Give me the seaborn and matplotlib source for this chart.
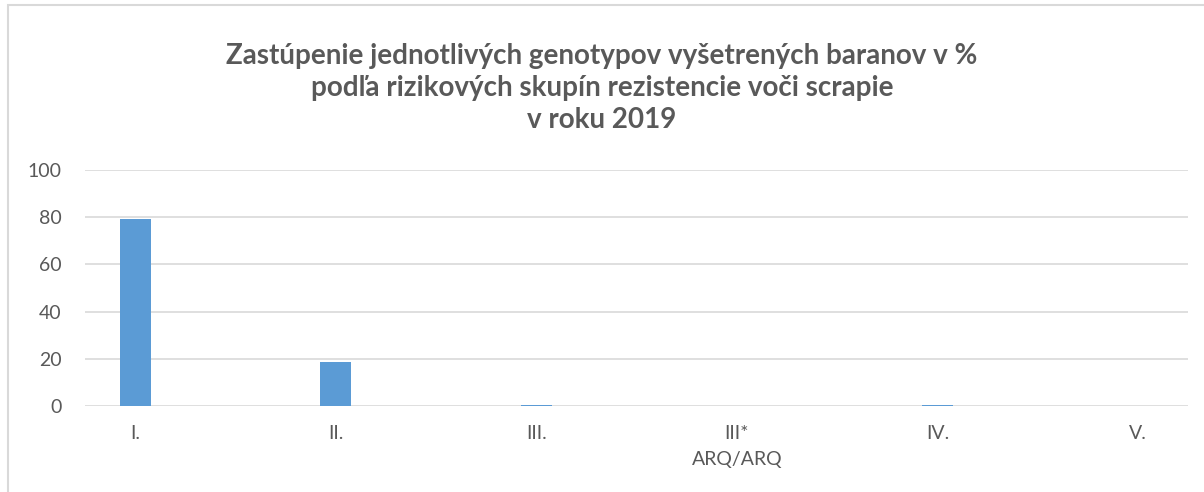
import matplotlib
matplotlib.use("Agg")
import matplotlib.pyplot as plt
import seaborn as sns
import pandas as pd
from matplotlib.patches import Rectangle

categories = ["I.", "II.", "III.", "III*\nARQ/ARQ", "IV.", "V."]
values = [79.3, 18.8, 0.25, 0.15, 0.55, 0.0]

title = ("Zastúpenie jednotlivých genotypov vyšetrených baranov v %\n"
         "podľa rizikových skupín rezistencie voči scrapie\n"
         "v roku 2019")

sns.set_theme(style="white")
plt.rcParams['font.family'] = ['Lato', 'DejaVu Sans']

df = pd.DataFrame({"skupina": categories, "podiel": values})

fig = plt.figure(figsize=(12.04, 4.92), dpi=100)
ax = fig.add_axes([0.0706, 0.1748, 0.9164, 0.4797])

sns.barplot(data=df, x="skupina", y="podiel", color="#5B9BD5", width=0.155,
            saturation=1, linewidth=0, ax=ax)

ax.set_xlim(-0.25, 5.25)
ax.set_ylim(0, 100)
ax.set_yticks(range(0, 101, 20))
ax.yaxis.grid(True, color="#D9D9D9", linewidth=1.2)
ax.set_axisbelow(True)
for s in ax.spines.values():
    s.set_visible(False)
ax.set_xlabel("")
ax.set_ylabel("")
ax.tick_params(axis="both", length=0, labelsize=14, labelcolor="#595959")
ax.tick_params(axis="y", pad=17)
ax.tick_params(axis="x", pad=14)
for lab in ax.get_xticklabels():
    lab.set_linespacing(1.6)
    lab.set_verticalalignment("top")

fig.text(0.5, 0.821, title, ha="center", va="center", fontsize=20,
         fontweight="bold", color="#595959", linespacing=1.28)

fig.patches.append(Rectangle((0.007, -0.01), 1.2, 1.0, transform=fig.transFigure,
                             fill=False, edgecolor="#D9D9D9", linewidth=1.5))

fig.savefig("out.png", dpi=100)
